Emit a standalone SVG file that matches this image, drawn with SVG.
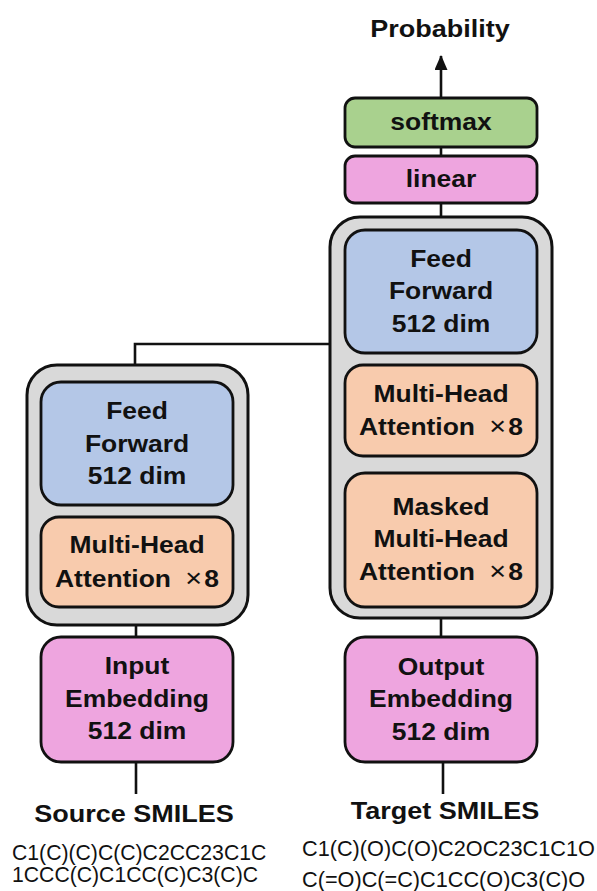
<svg xmlns="http://www.w3.org/2000/svg" width="597" height="891" viewBox="0 0 597 891">
<defs>
<style>
.box{stroke:#111;stroke-width:2.8}
.cont{fill:#d9d9d9;stroke:#111;stroke-width:3}
.ff{fill:#b4c7e7}
.mh{fill:#f8cbad}
.emb{fill:#eea5df}
.sm{fill:#a9d18e}
.t{font-family:"Liberation Sans",Arial,sans-serif;font-weight:bold;font-size:23px;fill:#111;text-anchor:middle}
.ti{font-family:"Liberation Sans",Arial,sans-serif;font-weight:bold;font-size:23.5px;fill:#111;text-anchor:middle}
.s{font-family:"Liberation Sans",Arial,sans-serif;font-size:21.2px;fill:#111}
.x{font-weight:normal;font-size:25px}
.c{fill:none;stroke:#111;stroke-width:2.6}
</style>
<marker id="arr" viewBox="0 0 15 13" refX="14" refY="6.5" markerWidth="15" markerHeight="13" orient="auto" markerUnits="userSpaceOnUse">
<path d="M0,0 L15,6.5 L0,13 z" fill="#111"/>
</marker>
</defs>
<rect width="597" height="891" fill="#fff"/>

<g id="connectors">
<line class="c" x1="441" y1="97" x2="441" y2="56" marker-end="url(#arr)"/>
<line class="c" x1="441" y1="147" x2="441" y2="156"/>
<line class="c" x1="441" y1="203" x2="441" y2="217"/>
<polyline class="c" points="135,365 135,344 330,344"/>
<line class="c" x1="136" y1="625" x2="136" y2="637"/>
<line class="c" x1="441" y1="618" x2="441" y2="637"/>
<line class="c" x1="136" y1="762" x2="136" y2="794"/>
<line class="c" x1="443" y1="762" x2="443" y2="794"/>
</g>

<g id="probability"><text class="ti" transform="translate(440 37) scale(1.15 1)">Probability</text></g>

<g id="softmax">
<rect class="box sm" x="345" y="98" width="192" height="49" rx="10"/>
<text class="t" transform="translate(441 130) scale(1.15 1)">softmax</text>
</g>
<g id="linear">
<rect class="box emb" x="345" y="156" width="192" height="47" rx="10"/>
<text class="t" transform="translate(441 187) scale(1.15 1)">linear</text>
</g>

<g id="decoder">
<rect class="cont" x="330" y="217" width="222" height="401" rx="30"/>
</g>
<g id="dec-ff">
<rect class="box ff" x="345" y="230" width="192" height="123" rx="20"/>
<text class="t" transform="translate(441 267) scale(1.15 1)">Feed</text>
<text class="t" transform="translate(441 299) scale(1.15 1)">Forward</text>
<text class="t" transform="translate(441 332) scale(1.15 1)">512 dim</text>
</g>
<g id="dec-mha">
<rect class="box mh" x="345" y="365" width="192" height="91" rx="18"/>
<text class="t" transform="translate(441 402) scale(1.15 1)">Multi-Head</text>
<text class="t" transform="translate(441 435) scale(1.15 1)">Attention <tspan class="x" dx="6">×</tspan><tspan dx="2">8</tspan></text>
</g>
<g id="dec-masked">
<rect class="box mh" x="345" y="473" width="192" height="134" rx="20"/>
<text class="t" transform="translate(441 515) scale(1.15 1)">Masked</text>
<text class="t" transform="translate(441 547) scale(1.15 1)">Multi-Head</text>
<text class="t" transform="translate(441 580) scale(1.15 1)">Attention <tspan class="x" dx="6">×</tspan><tspan dx="2">8</tspan></text>
</g>

<g id="encoder">
<rect class="cont" x="27" y="365" width="221" height="260" rx="30"/>
</g>
<g id="enc-ff">
<rect class="box ff" x="41" y="382" width="192" height="123" rx="20"/>
<text class="t" transform="translate(137 419) scale(1.15 1)">Feed</text>
<text class="t" transform="translate(137 452) scale(1.15 1)">Forward</text>
<text class="t" transform="translate(137 484) scale(1.15 1)">512 dim</text>
</g>
<g id="enc-mha">
<rect class="box mh" x="41" y="517" width="192" height="90" rx="18"/>
<text class="t" transform="translate(137 553) scale(1.15 1)">Multi-Head</text>
<text class="t" transform="translate(137 587) scale(1.15 1)">Attention <tspan class="x" dx="6">×</tspan><tspan dx="2">8</tspan></text>
</g>

<g id="input-embedding">
<rect class="box emb" x="41" y="637" width="192" height="125" rx="20"/>
<text class="t" transform="translate(137 674) scale(1.15 1)">Input</text>
<text class="t" transform="translate(137 707) scale(1.15 1)">Embedding</text>
<text class="t" transform="translate(137 739) scale(1.15 1)">512 dim</text>
</g>
<g id="output-embedding">
<rect class="box emb" x="345" y="637" width="192" height="125" rx="20"/>
<text class="t" transform="translate(441 675) scale(1.15 1)">Output</text>
<text class="t" transform="translate(441 707) scale(1.15 1)">Embedding</text>
<text class="t" transform="translate(441 740) scale(1.15 1)">512 dim</text>
</g>

<g id="source">
<text class="ti" transform="translate(134 822) scale(1.15 1)">Source SMILES</text>
<text class="s" x="12" y="860">C1(C)(C)C(C)C2CC23C1C</text>
<text class="s" x="12" y="882">1CCC(C)C1CC(C)C3(C)C</text>
</g>
<g id="target">
<text class="ti" transform="translate(445 819) scale(1.15 1)">Target SMILES</text>
<text class="s" x="302" y="856" style="font-size:21.7px">C1(C)(O)C(O)C2OC23C1C1O</text>
<text class="s" x="302" y="887" style="font-size:21.7px">C(=O)C(=C)C1CC(O)C3(C)O</text>
</g>
</svg>
